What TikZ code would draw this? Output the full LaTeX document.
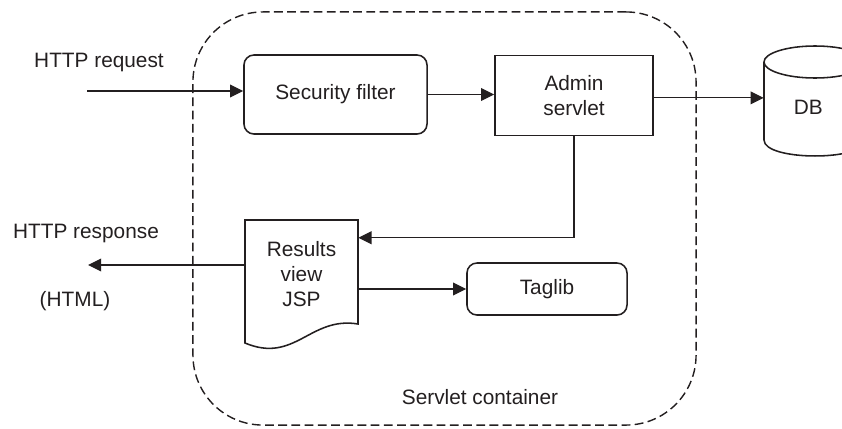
\documentclass[tikz,border=0pt]{standalone}
\usepackage{fontspec}
\setmainfont{Liberation Sans}
\usepackage{xcolor}
\usepackage{tikz}
\usetikzlibrary{arrows.meta,positioning,calc}
\definecolor{ink}{HTML}{231F20}

\begin{document}
\begin{tikzpicture}[
  x=0.025cm,y=-0.025cm,
  font=\fontsize{14.8}{17.5}\selectfont,text=ink,
  container/.style={draw=ink,line width=1pt,dash pattern=on 0.22cm off 0.11cm,
                    rounded corners=1.75cm,minimum width=12.575cm,minimum height=10.325cm},
  proc/.style={rounded corners=0.25cm,draw=ink,line width=1.1pt,align=center,inner sep=0pt},
  plain/.style={draw=ink,line width=1.1pt,align=center,inner sep=0pt},
  shell/.style={draw=ink,line width=1.1pt},
  arr/.style={-{Triangle[length=0.33cm,width=0.32cm]},line width=0.8pt,draw=ink}
]
\useasboundingbox (0,0) rectangle (842,428);
% servlet container
\node[container] (cont) at (444.5,218.5) {};
\node (contlbl) at (480,397) {Servlet container};
% inside the container
\node[proc,minimum width=4.575cm,minimum height=1.975cm] (secf) at (335.5,94.5) {Security filter};
\node[plain,minimum width=3.95cm,minimum height=2cm] (admin) at (574,95.5) {Admin\\servlet};
\node[align=center,inner sep=0pt,minimum width=2.825cm,minimum height=2.7cm] (jsp) at (301.5,274) {Results\\view\\JSP};
\draw[shell] (245,220) -- (358,220) -- (358,324) .. controls (310,316) and (295,364) .. (245,343) -- cycle;
\node[proc,minimum width=4cm,minimum height=1.3cm] (taglib) at (547,289) {Taglib};
% database
\node[minimum width=2.55cm,minimum height=2.75cm,
      label={[xshift=-0.17cm,yshift=-0.17cm]center:DB}] (db) at (815,101) {};
\draw[shell] (815,62) ellipse [x radius=1.275cm,y radius=0.4cm];
\draw[shell] (764,62) -- (764,140) .. controls (764,161.3) and (866,161.3) .. (866,140) -- (866,62);
% outside labels
\node (reqlbl) at (99,62) {HTTP request};
\node (resplbl) at (86,233) {HTTP response};
\node (html) at (75,301) {(HTML)};
\coordinate (req) at (87,91);
\coordinate (resp) at (88,265);
% connectors
\draw[arr] (req) -- (req -| secf.west);
\draw[arr] (secf.east) -- (secf.east -| admin.west);
\draw[arr] ([yshift=-0.06cm]admin.east) -- ([yshift=-0.06cm]admin.east -| db.west);
\draw[arr] (admin.south) |- ([yshift=-0.45cm]jsp.north east);
\draw[arr] (jsp.east |- taglib.west) -- (taglib.west);
\draw[arr] (jsp.west |- resp) -- (resp);
\end{tikzpicture}
\end{document}
